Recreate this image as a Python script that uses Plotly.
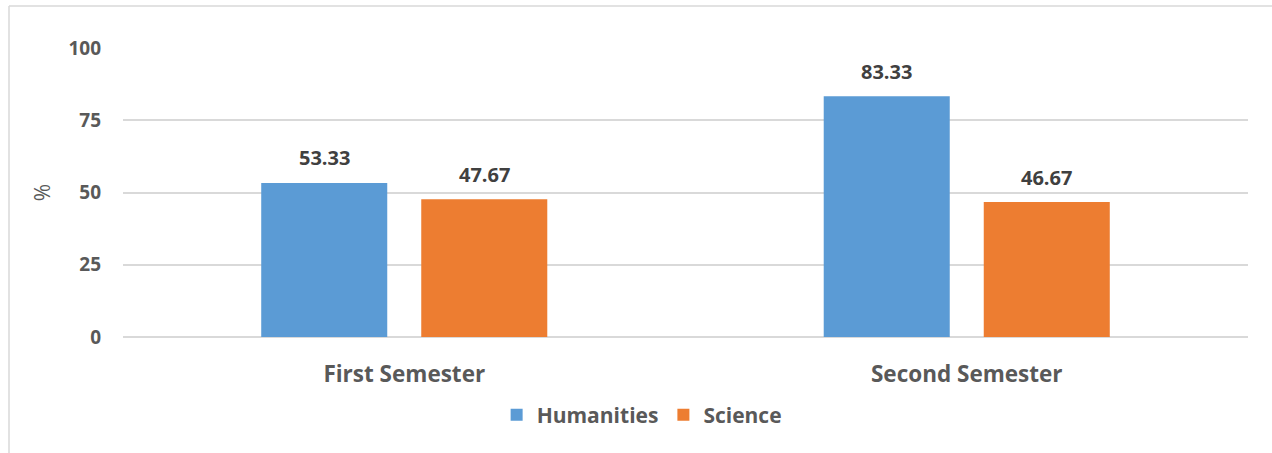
import plotly.graph_objects as go

categories = ["First Semester", "Second Semester"]
humanities = [53.33, 83.33]
science = [47.67, 46.67]
y_ticks = [0, 25, 50, 75, 100]

BLUE = "#5B9BD5"
ORANGE = "#ED7D31"
TEXT = "#595959"
LABEL = "#404040"
FONT = "Open Sans"

W, H = 1272, 453
ML, MR, MT, MB = 123, 24, 48, 116

fig = go.Figure()
fig.add_trace(go.Bar(name="Humanities", x=categories, y=humanities,
                     marker=dict(color=BLUE, line=dict(width=0))))
fig.add_trace(go.Bar(name="Science", x=categories, y=science,
                     marker=dict(color=ORANGE, line=dict(width=0))))

# value labels above each bar, offset to their bar within the group
for i, cat in enumerate(categories):
    for vals, off in ((humanities, -0.5), (science, 0.5)):
        fig.add_annotation(x=cat, y=vals[i], text=f"{vals[i]:.2f}",
                           showarrow=False, xshift=off * 160, yshift=25,
                           font=dict(family=FONT, size=20, color=LABEL,
                                     weight="bold"))

def px_x(p):
    return (p - ML) / (W - ML - MR)

def px_y(p):
    return 1 - (p - MT) / (H - MT - MB)

# thin frame lines along top and left edges
fig.add_shape(type="line", xref="paper", yref="paper",
              x0=px_x(9), x1=px_x(1272), y0=px_y(6), y1=px_y(6),
              line=dict(color="#D9D9D9", width=1.5))
fig.add_shape(type="line", xref="paper", yref="paper",
              x0=px_x(9), x1=px_x(9), y0=px_y(6), y1=px_y(453),
              line=dict(color="#D9D9D9", width=1.5))

fig.update_layout(
    width=W, height=H,
    margin=dict(l=ML, r=MR, t=MT, b=MB, pad=0),
    paper_bgcolor="white", plot_bgcolor="white",
    barmode="group", bargap=0.431, bargroupgap=0.2125,
    font=dict(family=FONT, color=TEXT),
    showlegend=True,
    legend=dict(orientation="h", x=0.461, xanchor="center", y=px_y(415),
                yanchor="middle",
                font=dict(family=FONT, size=21, color=TEXT, weight="bold"),
                itemwidth=30, traceorder="normal"),
    xaxis=dict(showgrid=False, showline=False, ticks="",
               tickfont=dict(family=FONT, size=22.5, color=TEXT, weight="bold"),
               ticklabelstandoff=21),
    yaxis=dict(range=[0, 100], tickvals=y_ticks, showgrid=True,
               gridcolor="#D9D9D9", gridwidth=1.5, zeroline=True,
               zerolinecolor="#D9D9D9", zerolinewidth=1.5,
               tickfont=dict(family=FONT, size=19, color=TEXT, weight="bold"),
               ticklabelstandoff=21,
               title=dict(text="%", standoff=12,
                          font=dict(family=FONT, size=21, color=TEXT))),
)

fig.write_html("out.html")
